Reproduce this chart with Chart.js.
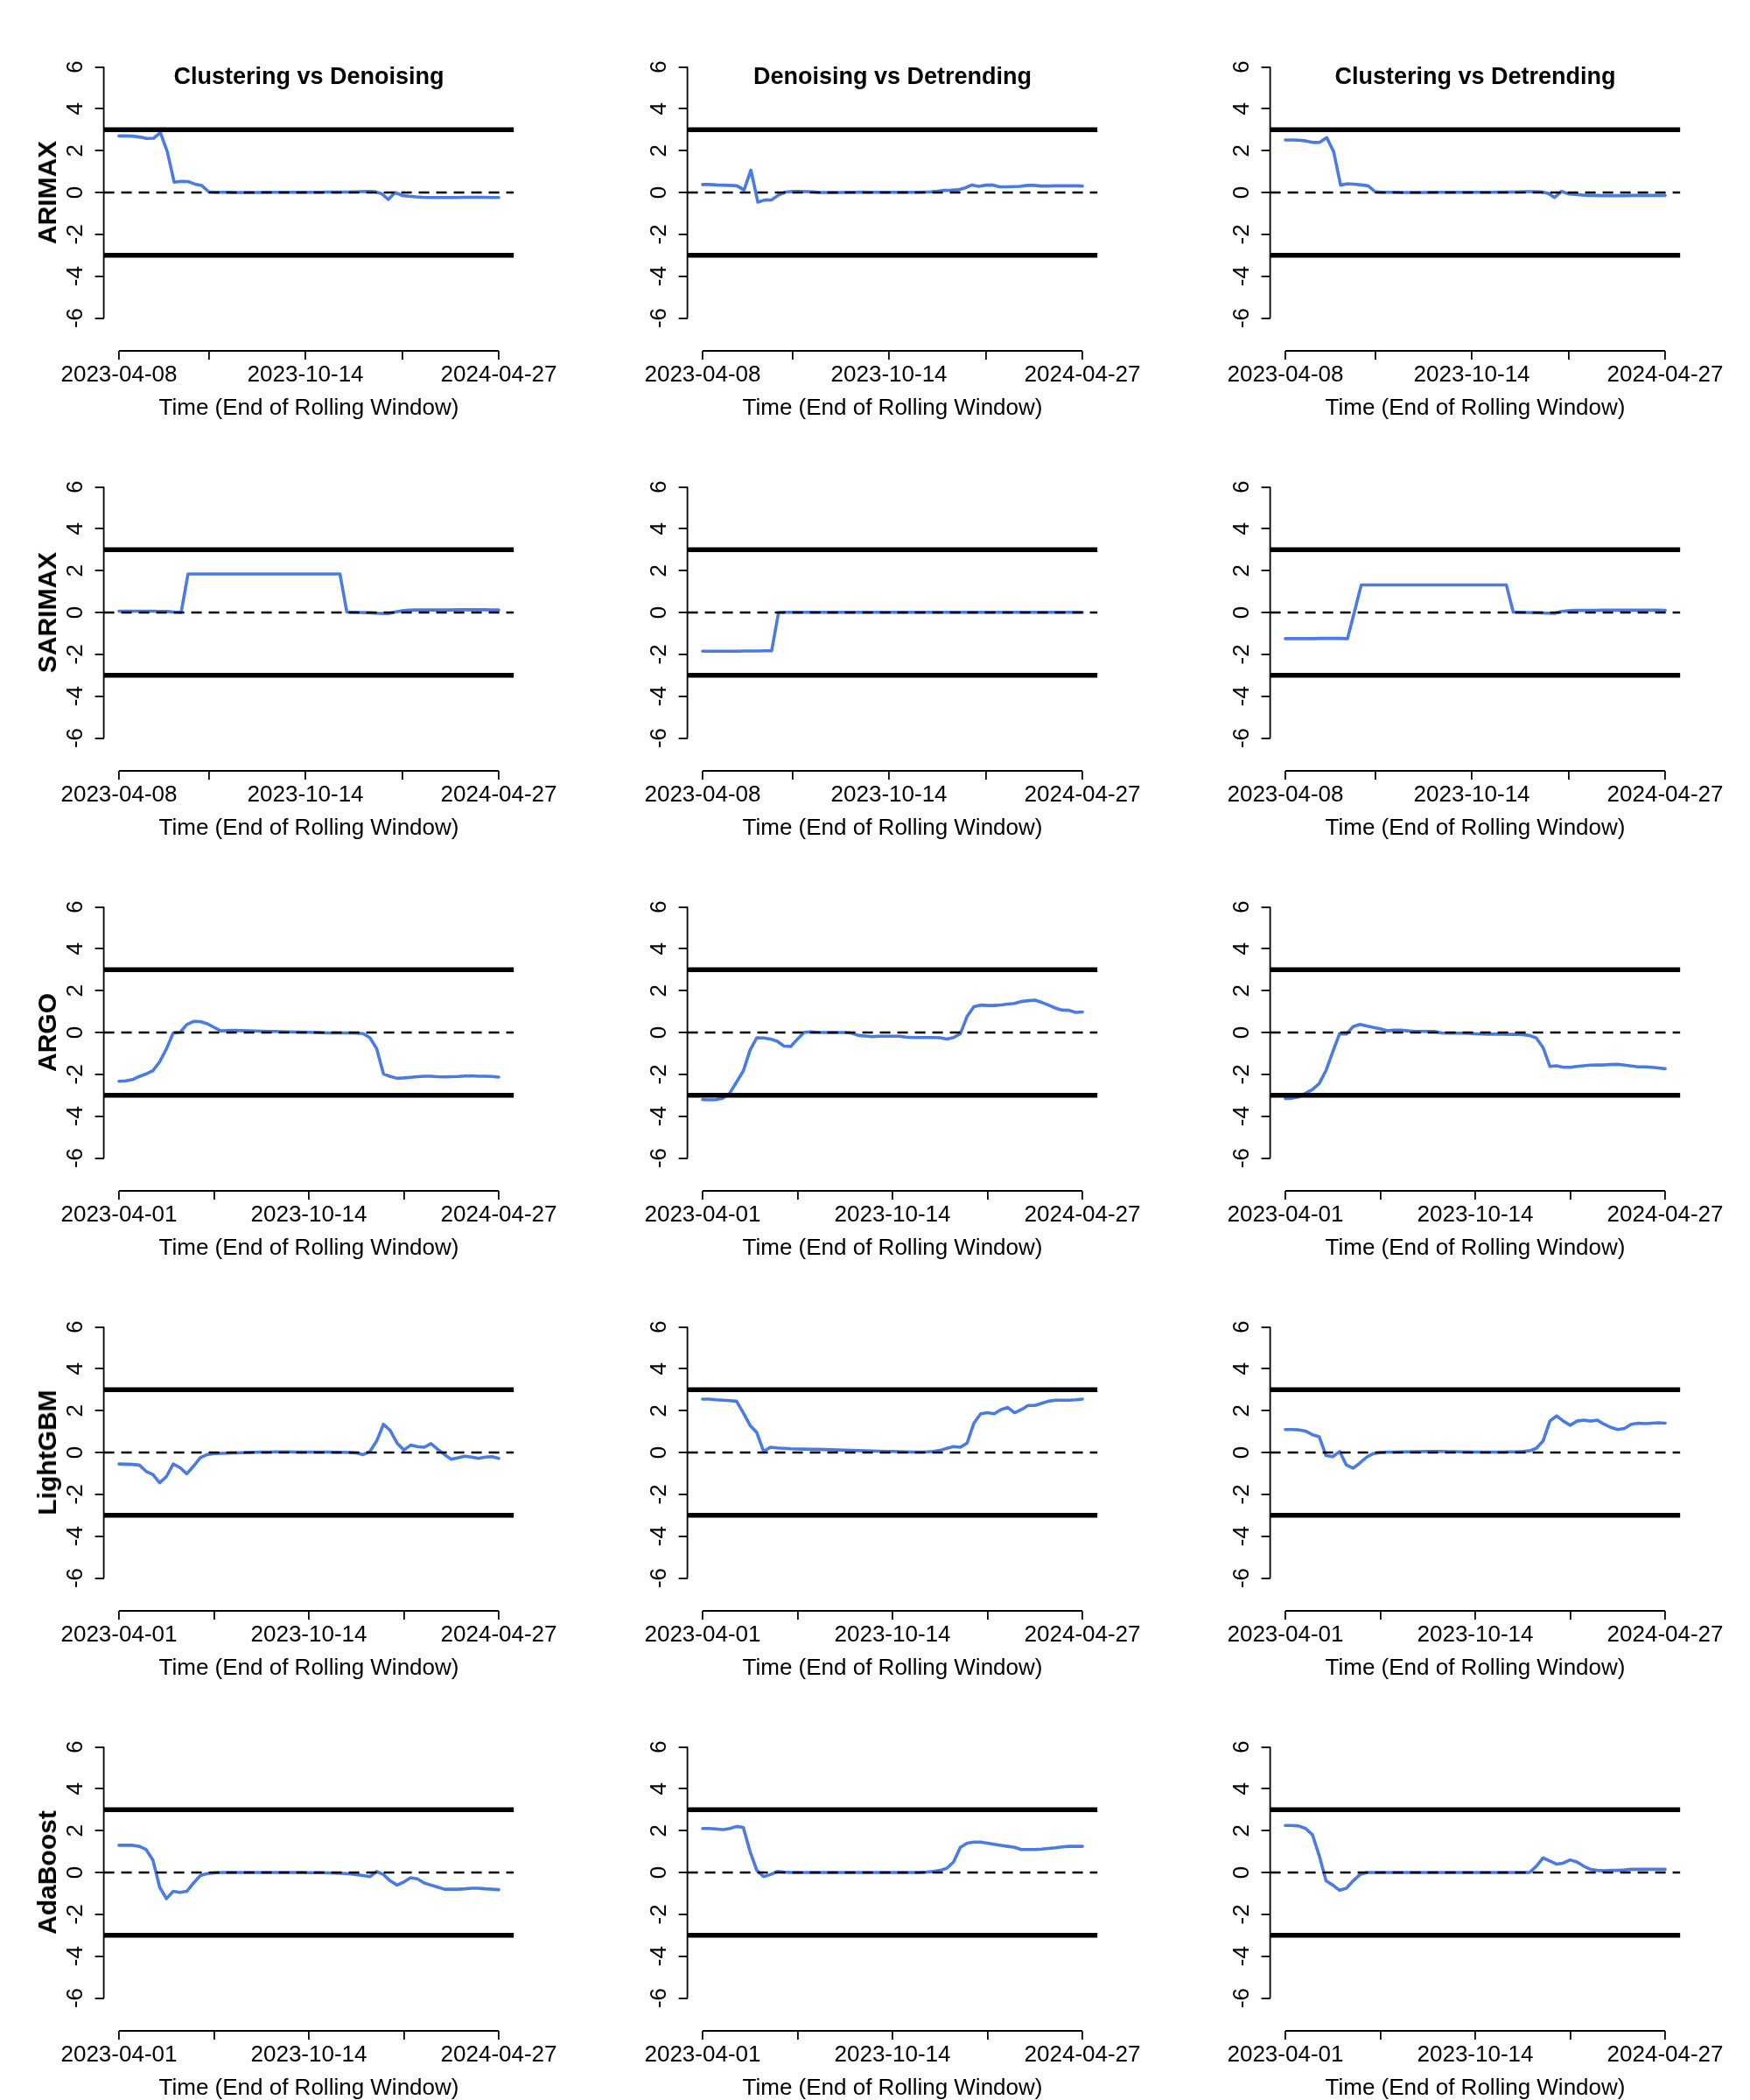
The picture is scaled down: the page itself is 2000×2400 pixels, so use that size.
<!DOCTYPE html>
<html><head><meta charset="utf-8">
<script src="https://cdn.jsdelivr.net/npm/chart.js@4"></script>
<style>
html,body{margin:0;padding:0;background:#fff;}
#fig{position:relative;width:2000px;height:2400px;background:#fff;overflow:hidden;}
canvas{position:absolute;}
.ttl{position:absolute;font-family:"Liberation Sans",Arial,Helvetica,sans-serif;font-weight:bold;color:#000;white-space:nowrap;line-height:1;transform:translate(-50%,-50%);}
.rowlab{position:absolute;font-family:"Liberation Sans",Arial,Helvetica,sans-serif;font-weight:bold;color:#000;white-space:nowrap;line-height:1;transform:translate(-50%,-50%) rotate(-90deg);}
</style>
</head><body><div id="fig"></div>
<script>
// ---------------- data ----------------
const models = ["ARIMAX", "SARIMAX", "ARGO", "LightGBM", "AdaBoost"];
const comparisons = ["Clustering vs Denoising", "Denoising vs Detrending", "Clustering vs Detrending"];
const xTitle = "Time (End of Rolling Window)";

const tickIdx56 = [1, 14, 28, 42, 56];
const tickLab56 = ["2023-04-08", "", "2023-10-14", "", "2024-04-27"];
const tickIdx57 = [1, 15, 29, 43, 57];
const tickLab57 = ["2023-04-01", "", "2023-10-14", "", "2024-04-27"];
const yTicks = [-6, -4, -2, 0, 2, 4, 6];
const limitLines = [3, -3];
const zeroLine = 0;

const arimax_cd = [2.70,2.70,2.69,2.65,2.58,2.59,2.86,1.95,0.49,0.53,
 0.52,0.40,0.33,0.03,0.01,0.01,0.01,0.00,0.00,0.00,
 0.00,0.01,0.01,0.01,0.01,0.01,0.01,0.01,0.01,0.01,
 0.02,0.02,0.02,0.02,0.03,0.04,0.05,0.04,-0.05,-0.33,
 0.00,-0.14,-0.18,-0.21,-0.23,-0.24,-0.24,-0.24,-0.24,-0.24,
 -0.23,-0.23,-0.23,-0.23,-0.24,-0.24];
const arimax_dd = [0.38,0.38,0.36,0.35,0.34,0.32,0.12,1.07,-0.46,-0.36,
 -0.35,-0.12,0.02,0.05,0.05,0.04,0.03,0.00,0.00,0.00,
 0.00,0.01,0.01,0.02,0.01,0.01,0.01,0.01,0.01,0.01,
 0.01,0.01,0.02,0.03,0.06,0.10,0.11,0.13,0.22,0.36,
 0.29,0.35,0.36,0.27,0.27,0.28,0.29,0.34,0.34,0.31,
 0.31,0.32,0.32,0.32,0.32,0.31];
const arimax_ct = [2.51,2.51,2.50,2.46,2.39,2.40,2.62,1.95,0.35,0.42,
 0.40,0.36,0.32,0.04,0.01,0.01,0.01,0.00,0.00,0.00,
 0.00,0.01,0.01,0.01,0.01,0.01,0.01,0.01,0.01,0.01,
 0.01,0.02,0.02,0.02,0.03,0.04,0.04,0.03,-0.03,-0.24,
 0.06,-0.07,-0.09,-0.12,-0.14,-0.14,-0.15,-0.15,-0.15,-0.15,
 -0.14,-0.14,-0.14,-0.14,-0.14,-0.14];

const sarimax_cd = [0.06,0.06,0.06,0.06,0.06,0.06,0.05,0.05,0.02,0.00,
 1.84,1.84,1.84,1.84,1.84,1.84,1.84,1.84,1.84,1.84,
 1.84,1.84,1.84,1.84,1.84,1.84,1.84,1.84,1.84,1.84,
 1.84,1.84,1.84,0.02,0.01,0.00,-0.01,-0.03,-0.04,-0.05,
 0.02,0.08,0.11,0.12,0.12,0.12,0.12,0.12,0.12,0.13,
 0.13,0.13,0.13,0.13,0.12,0.12];
const sarimax_dd = [-1.85,-1.85,-1.85,-1.85,-1.85,-1.85,-1.84,-1.84,-1.84,-1.83,
 -1.83,0.00,0.01,0.01,0.01,0.01,0.01,0.01,0.01,0.01,
 0.01,0.01,0.01,0.01,0.01,0.01,0.01,0.01,0.01,0.01,
 0.01,0.01,0.01,0.01,0.01,0.01,0.01,0.01,0.01,0.01,
 0.01,0.01,0.01,0.01,0.01,0.01,0.01,0.01,0.01,0.01,
 0.01,0.01,0.01,0.01,0.01,0.01];
const sarimax_ct = [-1.25,-1.25,-1.25,-1.25,-1.25,-1.24,-1.24,-1.24,-1.24,-1.25,
 0.03,1.32,1.32,1.32,1.32,1.32,1.32,1.32,1.32,1.32,
 1.32,1.32,1.32,1.32,1.32,1.32,1.32,1.32,1.32,1.32,
 1.32,1.32,1.32,0.02,0.01,0.00,-0.01,-0.02,-0.03,-0.04,
 0.05,0.08,0.10,0.10,0.10,0.10,0.11,0.11,0.11,0.11,
 0.11,0.11,0.11,0.11,0.11,0.10];

const argo_cd = [-2.33,-2.31,-2.25,-2.10,-1.98,-1.82,-1.40,-0.78,-0.02,0.00,
 0.38,0.53,0.52,0.42,0.25,0.08,0.09,0.10,0.09,0.08,
 0.07,0.06,0.05,0.05,0.04,0.03,0.02,0.02,0.01,0.00,
 -0.01,-0.02,-0.02,-0.02,-0.02,-0.03,-0.05,-0.25,-0.77,-1.98,
 -2.10,-2.19,-2.17,-2.14,-2.11,-2.09,-2.09,-2.11,-2.12,-2.11,
 -2.10,-2.08,-2.07,-2.09,-2.09,-2.10,-2.13];
const argo_dd = [-3.21,-3.22,-3.21,-3.14,-2.90,-2.37,-1.84,-0.84,-0.25,-0.26,
 -0.31,-0.42,-0.65,-0.67,-0.31,0.01,0.03,0.01,0.00,0.00,
 0.00,0.00,-0.03,-0.14,-0.17,-0.20,-0.18,-0.18,-0.18,-0.18,
 -0.22,-0.24,-0.24,-0.24,-0.24,-0.25,-0.31,-0.24,-0.06,0.77,
 1.23,1.31,1.29,1.29,1.32,1.36,1.39,1.48,1.52,1.55,
 1.44,1.31,1.17,1.07,1.06,0.96,0.98];
const argo_ct = [-3.15,-3.14,-3.07,-2.90,-2.72,-2.44,-1.81,-0.91,-0.06,-0.07,
 0.28,0.39,0.31,0.24,0.18,0.08,0.11,0.11,0.08,0.05,
 0.05,0.05,0.05,-0.02,-0.03,-0.03,-0.03,-0.04,-0.06,-0.07,
 -0.08,-0.08,-0.08,-0.09,-0.09,-0.10,-0.14,-0.26,-0.72,-1.62,
 -1.59,-1.66,-1.66,-1.62,-1.59,-1.56,-1.55,-1.55,-1.53,-1.52,
 -1.56,-1.60,-1.64,-1.64,-1.66,-1.69,-1.73];

const lgbm_cd = [-0.55,-0.56,-0.57,-0.60,-0.90,-1.05,-1.45,-1.15,-0.55,-0.72,
 -1.02,-0.65,-0.25,-0.10,-0.05,-0.04,-0.03,-0.02,-0.01,0.00,
 0.01,0.02,0.02,0.03,0.03,0.03,0.02,0.02,0.02,0.02,
 0.02,0.02,0.01,0.01,0.00,-0.02,-0.10,0.05,0.55,1.35,
 1.05,0.45,0.12,0.35,0.28,0.25,0.42,0.15,-0.10,-0.32,
 -0.25,-0.18,-0.22,-0.28,-0.22,-0.20,-0.28];
const lgbm_dd = [2.55,2.55,2.52,2.50,2.48,2.45,1.90,1.30,0.95,0.05,
 0.25,0.22,0.20,0.18,0.17,0.16,0.15,0.15,0.14,0.13,
 0.12,0.11,0.10,0.09,0.08,0.07,0.06,0.05,0.05,0.04,
 0.03,0.02,0.02,0.03,0.05,0.10,0.20,0.28,0.25,0.45,
 1.40,1.85,1.90,1.85,2.05,2.15,1.90,2.05,2.25,2.25,
 2.35,2.45,2.50,2.50,2.50,2.52,2.55];
const lgbm_ct = [1.10,1.10,1.08,1.02,0.85,0.75,-0.15,-0.20,0.05,-0.60,
 -0.75,-0.50,-0.22,-0.05,0.00,0.02,0.02,0.03,0.03,0.04,
 0.04,0.05,0.05,0.05,0.04,0.04,0.03,0.03,0.02,0.02,
 0.02,0.02,0.02,0.03,0.03,0.05,0.08,0.20,0.55,1.50,
 1.75,1.50,1.30,1.50,1.55,1.50,1.55,1.35,1.20,1.10,
 1.15,1.35,1.40,1.38,1.40,1.42,1.40];

const ada_cd = [1.30,1.30,1.30,1.25,1.10,0.60,-0.70,-1.25,-0.90,-0.95,
 -0.90,-0.50,-0.15,-0.05,-0.02,0.00,0.00,0.00,0.00,0.00,
 0.00,0.00,0.00,0.00,0.00,0.00,0.00,0.00,-0.01,-0.01,
 -0.01,-0.02,-0.03,-0.04,-0.06,-0.10,-0.15,-0.20,0.05,-0.10,
 -0.40,-0.60,-0.45,-0.25,-0.30,-0.50,-0.60,-0.70,-0.80,-0.80,
 -0.80,-0.78,-0.75,-0.75,-0.78,-0.80,-0.82];
const ada_dd = [2.10,2.10,2.08,2.05,2.10,2.20,2.15,1.00,0.10,-0.20,
 -0.10,0.05,0.02,0.00,0.00,0.00,0.00,0.00,0.00,0.00,
 0.00,0.00,0.00,0.00,0.00,0.00,0.00,0.00,0.00,0.00,
 0.00,0.00,0.00,0.02,0.05,0.10,0.20,0.50,1.20,1.40,
 1.45,1.45,1.40,1.35,1.30,1.25,1.20,1.10,1.10,1.10,
 1.12,1.15,1.18,1.22,1.25,1.25,1.25];
const ada_ct = [2.25,2.25,2.22,2.10,1.80,0.80,-0.40,-0.60,-0.85,-0.75,
 -0.40,-0.10,0.00,0.00,0.00,0.00,0.00,0.00,0.00,0.00,
 0.00,0.00,0.00,0.00,0.00,0.00,0.00,0.00,0.00,0.00,
 0.00,0.00,0.00,0.00,0.00,0.00,0.00,0.30,0.70,0.55,
 0.40,0.45,0.60,0.50,0.30,0.15,0.10,0.08,0.10,0.10,
 0.12,0.15,0.15,0.15,0.15,0.15,0.15];

const seriesByModel = {
  ARIMAX: [arimax_cd, arimax_dd, arimax_ct],
  SARIMAX: [sarimax_cd, sarimax_dd, sarimax_ct],
  ARGO: [argo_cd, argo_dd, argo_ct],
  LightGBM: [lgbm_cd, lgbm_dd, lgbm_ct],
  AdaBoost: [ada_cd, ada_dd, ada_ct]
};

// ---------------- layout / style ----------------
const FONT = '"Liberation Sans", Arial, Helvetica, sans-serif';
const PANEL_W = 667, PANEL_H = 480;
const PLOT_L = 118.6, PLOT_R = 587.4, PLOT_T = 65, PLOT_B = 375, AXIS_Y = 401;
const Y_TOP = 6.48, Y_BOT_R = -6.48;
const yPerPx = (Y_TOP - Y_BOT_R) / (PLOT_B - PLOT_T);
const Y_MIN = Y_TOP - (AXIS_Y - PLOT_T) * yPerPx;
const BLUE = '#4A7BE3';

const rAxes = {
  id: 'rAxes',
  afterDraw(chart) {
    const {ctx, chartArea} = chart;
    const x = chart.scales.x, y = chart.scales.y;
    ctx.save();
    ctx.strokeStyle = '#000';
    ctx.lineWidth = 1.8;
    const yv = y.ticks.map(t => t.value);
    ctx.beginPath();
    ctx.moveTo(chartArea.left, y.getPixelForValue(Math.min(...yv)));
    ctx.lineTo(chartArea.left, y.getPixelForValue(Math.max(...yv)));
    ctx.stroke();
    const xv = x.ticks.map(t => t.value);
    ctx.beginPath();
    ctx.moveTo(x.getPixelForValue(Math.min(...xv)), chartArea.bottom);
    ctx.lineTo(x.getPixelForValue(Math.max(...xv)), chartArea.bottom);
    ctx.stroke();
    ctx.restore();
  }
};

const fig = document.getElementById('fig');

models.forEach((model, r) => {
  seriesByModel[model].forEach((vals, c) => {
    const left = Math.round(c * 2000 / 3);
    const top = r * PANEL_H;
    const cv = document.createElement('canvas');
    cv.width = PANEL_W; cv.height = PANEL_H;
    cv.style.left = left + 'px'; cv.style.top = top + 'px';
    cv.style.width = PANEL_W + 'px'; cv.style.height = PANEL_H + 'px';
    fig.appendChild(cv);

    const n = vals.length;
    const tIdx = n === 56 ? tickIdx56 : tickIdx57;
    const tLab = n === 56 ? tickLab56 : tickLab57;
    const pad = 0.04 * (n - 1);
    const xMin = 1 - pad, xMax = n + pad;

    const hLine = (v) => [{x: xMin, y: v}, {x: xMax, y: v}];

    new Chart(cv, {
      type: 'line',
      data: {
        datasets: [
          {data: hLine(limitLines[0]), borderColor: '#000', borderWidth: 5.5, pointRadius: 0, order: 1, borderCapStyle: 'butt'},
          {data: hLine(limitLines[1]), borderColor: '#000', borderWidth: 5.5, pointRadius: 0, order: 1, borderCapStyle: 'butt'},
          {data: hLine(zeroLine), borderColor: '#000', borderWidth: 2.5, borderDash: [12, 8], pointRadius: 0, order: 1},
          {data: vals.map((v, i) => ({x: i + 1, y: v})), borderColor: BLUE, borderWidth: 3.6, pointRadius: 0, tension: 0, order: 2, borderJoinStyle: 'round', borderCapStyle: 'round'}
        ]
      },
      options: {
        responsive: false,
        animation: false,
        devicePixelRatio: 1,
        layout: {padding: {top: PLOT_T, right: PANEL_W - PLOT_R, left: 0, bottom: 0}},
        plugins: {legend: {display: false}, tooltip: {enabled: false}, title: {display: false}},
        events: [],
        scales: {
          x: {
            type: 'linear', position: 'bottom', min: xMin, max: xMax,
            afterBuildTicks: (s) => { s.ticks = tIdx.map(v => ({value: v})); },
            afterFit: (s) => { s.height = PANEL_H - AXIS_Y; },
            ticks: {
              autoSkip: false, maxRotation: 0, minRotation: 0, padding: 2,
              color: '#000', font: {family: FONT, size: 26},
              callback: (v) => { const k = tIdx.indexOf(v); return k >= 0 ? tLab[k] : ''; }
            },
            grid: {drawOnChartArea: false, drawTicks: true, tickLength: 10, color: '#000', lineWidth: 1.8},
            border: {display: false},
            title: {display: true, text: xTitle, color: '#000', font: {family: FONT, size: 26, lineHeight: 1}, padding: {top: 0, bottom: 0}}
          },
          y: {
            type: 'linear', position: 'left', min: Y_MIN, max: Y_TOP,
            afterBuildTicks: (s) => { s.ticks = yTicks.map(v => ({value: v})); },
            afterFit: (s) => { s.width = PLOT_L; },
            ticks: {
              minRotation: 90, maxRotation: 90, crossAlign: 'center', padding: 10,
              color: '#000', font: {family: FONT, size: 26},
              callback: (v) => String(v)
            },
            grid: {drawOnChartArea: false, drawTicks: true, tickLength: 10, color: '#000', lineWidth: 1.8},
            border: {display: false}
          }
        }
      },
      plugins: [rAxes]
    });

    if (r === 0) {
      const t = document.createElement('div');
      t.className = 'ttl';
      t.style.fontSize = '27px';
      t.style.left = (left + (PLOT_L + PLOT_R) / 2) + 'px';
      t.style.top = (top + 87) + 'px';
      t.textContent = comparisons[c];
      fig.appendChild(t);
    }
    if (c === 0) {
      const l = document.createElement('div');
      l.className = 'rowlab';
      l.style.fontSize = '30px';
      l.style.left = (left + 54) + 'px';
      l.style.top = (top + (PLOT_T + PLOT_B) / 2) + 'px';
      l.textContent = model;
      fig.appendChild(l);
    }
  });
});
</script>
</body></html>
